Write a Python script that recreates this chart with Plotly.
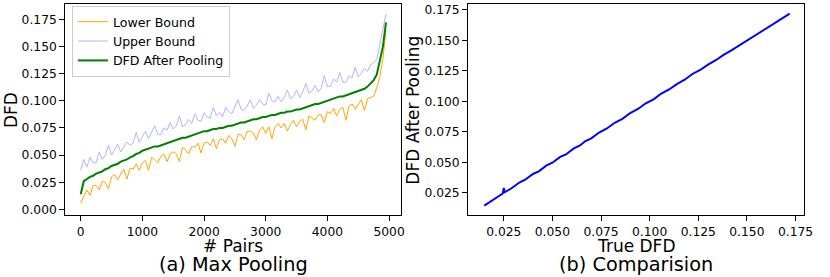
import plotly.graph_objects as go

# ---------------- data ----------------
pair_idx = list(range(0, 4951, 50))

dfd_pooled = [
    0.014, 0.026, 0.028, 0.030, 0.031, 0.033, 0.034, 0.035, 0.037, 0.038,
    0.040, 0.041, 0.042, 0.044, 0.045, 0.046, 0.048, 0.049, 0.051, 0.052,
    0.054, 0.055, 0.056, 0.057, 0.058, 0.058, 0.059, 0.060, 0.061, 0.062,
    0.063, 0.064, 0.065, 0.066, 0.066, 0.067, 0.068, 0.069, 0.070, 0.071,
    0.072, 0.072, 0.073, 0.074, 0.074, 0.075, 0.075, 0.076, 0.077, 0.077,
    0.078, 0.079, 0.080, 0.080, 0.081, 0.082, 0.083, 0.083, 0.084, 0.085,
    0.085, 0.086, 0.087, 0.087, 0.088, 0.089, 0.089, 0.090, 0.090, 0.091,
    0.092, 0.092, 0.093, 0.094, 0.095, 0.096, 0.097, 0.097, 0.098, 0.099,
    0.100, 0.101, 0.102, 0.103, 0.104, 0.104, 0.105, 0.106, 0.107, 0.108,
    0.109, 0.110, 0.111, 0.113, 0.116, 0.119, 0.124, 0.136, 0.150, 0.172,
]

upper_bound = [
    0.036, 0.046, 0.039, 0.048, 0.043, 0.043, 0.053, 0.046, 0.050, 0.059,
    0.050, 0.055, 0.060, 0.053, 0.058, 0.062, 0.059, 0.061, 0.071, 0.062,
    0.067, 0.072, 0.065, 0.071, 0.077, 0.069, 0.069, 0.075, 0.073, 0.080,
    0.074, 0.077, 0.086, 0.076, 0.078, 0.083, 0.079, 0.088, 0.082, 0.081,
    0.089, 0.085, 0.084, 0.094, 0.086, 0.089, 0.085, 0.094, 0.090, 0.088,
    0.094, 0.101, 0.092, 0.091, 0.095, 0.101, 0.093, 0.096, 0.101, 0.097,
    0.096, 0.107, 0.100, 0.099, 0.104, 0.099, 0.103, 0.110, 0.102, 0.104,
    0.110, 0.103, 0.108, 0.116, 0.107, 0.109, 0.114, 0.108, 0.112, 0.123,
    0.113, 0.113, 0.120, 0.117, 0.126, 0.117, 0.117, 0.123, 0.121, 0.131,
    0.122, 0.125, 0.130, 0.127, 0.133, 0.135, 0.138, 0.152, 0.163, 0.180,
]

lower_bound = [
    0.006, 0.012, 0.018, 0.013, 0.022, 0.022, 0.018, 0.026, 0.025, 0.019,
    0.030, 0.032, 0.027, 0.033, 0.037, 0.028, 0.038, 0.037, 0.042, 0.036,
    0.043, 0.045, 0.036, 0.048, 0.046, 0.043, 0.049, 0.051, 0.044, 0.051,
    0.053, 0.051, 0.044, 0.057, 0.055, 0.051, 0.058, 0.057, 0.061, 0.052,
    0.061, 0.062, 0.059, 0.065, 0.056, 0.064, 0.065, 0.061, 0.068, 0.065,
    0.058, 0.069, 0.069, 0.064, 0.072, 0.072, 0.070, 0.064, 0.073, 0.076,
    0.070, 0.076, 0.065, 0.076, 0.079, 0.075, 0.079, 0.072, 0.078, 0.082,
    0.076, 0.081, 0.083, 0.073, 0.086, 0.084, 0.082, 0.087, 0.087, 0.080,
    0.090, 0.088, 0.093, 0.086, 0.092, 0.094, 0.082, 0.095, 0.097, 0.092,
    0.097, 0.101, 0.091, 0.102, 0.103, 0.104, 0.112, 0.122, 0.139, 0.165,
]

true_dfd = [
    0.015, 0.018, 0.021, 0.0245, 0.025, 0.0255, 0.029, 0.033, 0.036, 0.040,
    0.043, 0.047, 0.050, 0.054, 0.057, 0.061, 0.064, 0.067, 0.070, 0.074,
    0.078, 0.082, 0.086, 0.090, 0.094, 0.098, 0.102, 0.106, 0.110, 0.114,
    0.118, 0.122, 0.126, 0.130, 0.134, 0.138, 0.142, 0.146, 0.150, 0.154,
    0.158, 0.162, 0.166, 0.169, 0.172,
]
pooled_dfd = [
    0.0145, 0.0175, 0.0210, 0.0245, 0.0290, 0.0255, 0.0288, 0.0335, 0.0358, 0.0405,
    0.0427, 0.0475, 0.0497, 0.0545, 0.0565, 0.0615, 0.0637, 0.0675, 0.0697, 0.0745,
    0.0778, 0.0825, 0.0857, 0.0905, 0.0938, 0.0985, 0.1017, 0.1065, 0.1098, 0.1142,
    0.1178, 0.1225, 0.1258, 0.1302, 0.1338, 0.1382, 0.1418, 0.1458, 0.1502, 0.1538,
    0.1578, 0.1618, 0.1658, 0.1688, 0.1720,
]

x1_ticks = [0, 1000, 2000, 3000, 4000, 5000]
y1_ticks = [0.000, 0.025, 0.050, 0.075, 0.100, 0.125, 0.150, 0.175]
x2_ticks = [0.025, 0.050, 0.075, 0.100, 0.125, 0.150, 0.175]
y2_ticks = [0.025, 0.050, 0.075, 0.100, 0.125, 0.150, 0.175]

# ---------------- figure ----------------
W, H = 830, 277
FONT = "DejaVu Sans"

fig = go.Figure()
fig.add_trace(go.Scatter(x=pair_idx, y=lower_bound, mode="lines", name="Lower Bound",
                         line=dict(color="#FFA500", width=1), xaxis="x", yaxis="y"))
fig.add_trace(go.Scatter(x=pair_idx, y=upper_bound, mode="lines", name="Upper Bound",
                         line=dict(color="#B3B3FF", width=1), xaxis="x", yaxis="y"))
fig.add_trace(go.Scatter(x=pair_idx, y=dfd_pooled, mode="lines", name="DFD After Pooling",
                         line=dict(color="#008000", width=2), xaxis="x", yaxis="y"))
fig.add_trace(go.Scatter(x=true_dfd, y=pooled_dfd, mode="lines", showlegend=False,
                         line=dict(color="#0000FF", width=2), xaxis="x2", yaxis="y2"))

def px_x(p):
    return p / W

def px_y(p):
    return (H - p) / H

axis_common = dict(showline=True, linecolor="black", linewidth=1, mirror=True,
                   ticks="outside", ticklen=5, tickcolor="black", tickwidth=1,
                   showgrid=False, zeroline=False,
                   tickfont=dict(family=FONT, size=12.3, color="black"))

L1, R1 = 66, 405.7
L2, R2 = 473.3, 813.3
TOP, BOT = 3, 216

fig.update_layout(
    width=W, height=H,
    margin=dict(l=0, r=0, t=0, b=0),
    paper_bgcolor="white", plot_bgcolor="white",
    font=dict(family=FONT, color="black"),
    xaxis=dict(domain=[px_x(L1), px_x(R1)], range=[-250, 5198], tickvals=x1_ticks,
               tickformat="d", anchor="y", **axis_common),
    yaxis=dict(domain=[px_y(BOT), px_y(TOP)], range=[-0.0055, 0.189], tickvals=y1_ticks,
               tickformat=".3f", anchor="x", **axis_common),
    xaxis2=dict(domain=[px_x(L2), px_x(R2)], range=[0.0067, 0.1796], tickvals=x2_ticks,
                tickformat=".3f", anchor="y2", **axis_common),
    yaxis2=dict(domain=[px_y(BOT), px_y(TOP)], range=[0.0065, 0.1799], tickvals=y2_ticks,
                tickformat=".3f", anchor="x2", **axis_common),
    legend=dict(x=px_x(72.7), y=px_y(5), xanchor="left", yanchor="top",
                bgcolor="rgba(255,255,255,0.8)", bordercolor="#cccccc", borderwidth=1,
                font=dict(family=FONT, size=12.6, color="black"),
                tracegroupgap=0),
    showlegend=True,
)

def ann(text, x, y, size, angle=0):
    fig.add_annotation(text=text, x=px_x(x), y=px_y(y), xref="paper", yref="paper",
                       showarrow=False, xanchor="center", yanchor="middle",
                       textangle=angle, font=dict(family=FONT, size=size, color="black"))

ann("DFD", 11, 110, 17, -90)
ann("DFD After Pooling", 418, 110, 17, -90)
ann("# Pairs", (L1 + R1) / 2, 246.5, 17)
ann("True DFD", (L2 + R2) / 2, 246.5, 17)
ann("(a) Max Pooling", (L1 + R1) / 2, 265.5, 19.3)
ann("(b) Comparision", (L2 + R2) / 2, 265.5, 19.3)

fig.write_html("out.html", config={"displayModeBar": False},
               post_script="document.body.style.margin='0';document.body.style.overflow='hidden';")
